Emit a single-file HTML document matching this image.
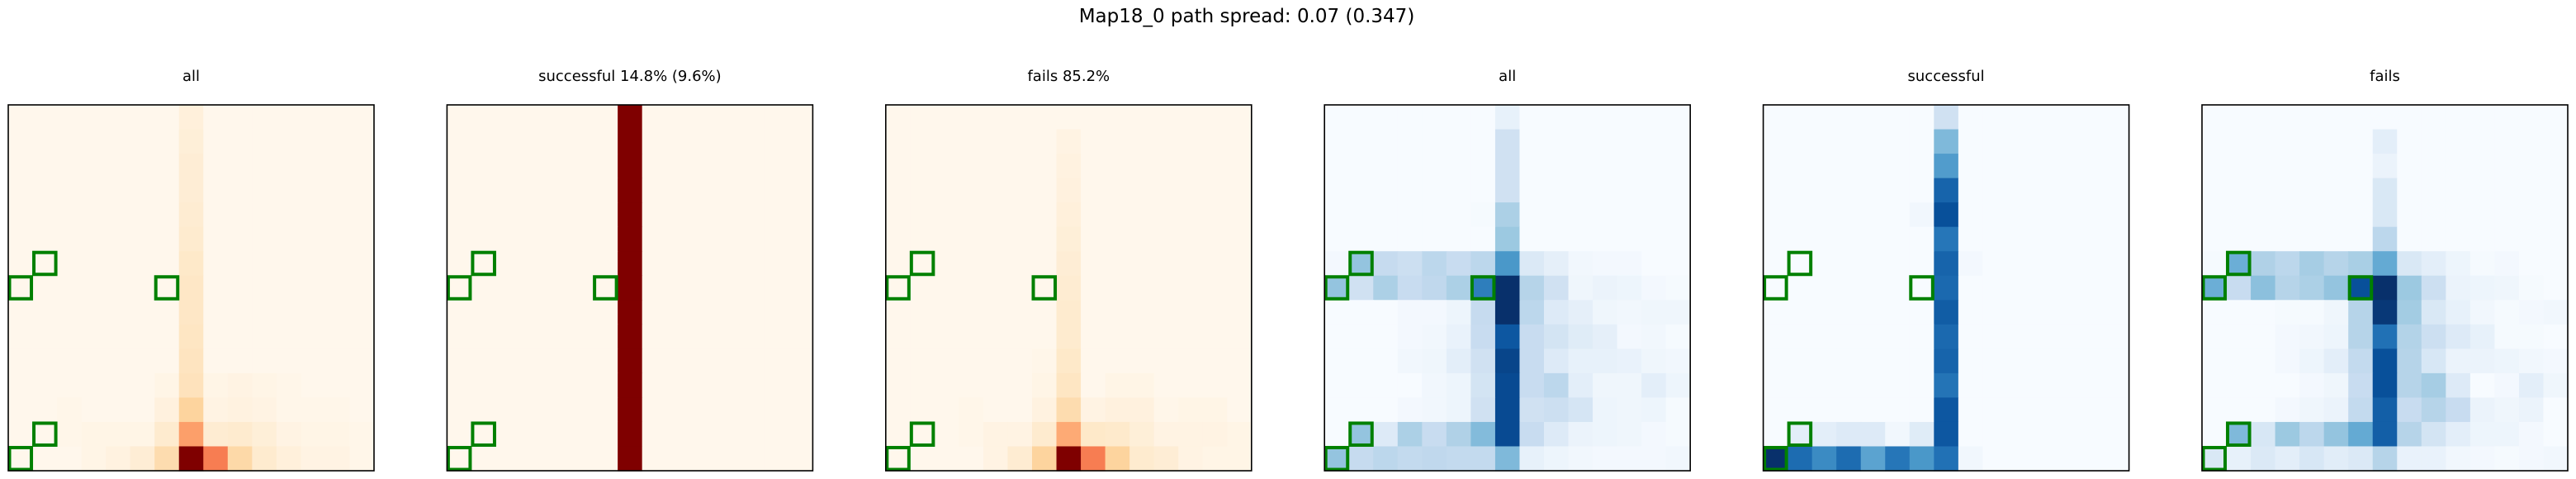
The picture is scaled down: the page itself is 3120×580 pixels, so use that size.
<!DOCTYPE html>
<html><head><meta charset="utf-8"><style>
html,body{margin:0;padding:0;background:#fff;width:3120px;height:580px;overflow:hidden}
svg{display:block}
text{font-family:"DejaVu Sans","Liberation Sans",sans-serif;fill:#000}
</style></head><body>
<svg id="fig" width="3120" height="580" viewBox="0 0 3120 580">
<text x="1510" y="27" font-size="23" text-anchor="middle">Map18_0 path spread: 0.07 (0.347)</text>
</svg>
<script>
// ---- data ----
const panelTitles = ["all", "successful 14.8% (9.6%)", "fails 85.2%", "all", "successful", "fails"];
const panelCmaps = ["OrRd", "OrRd", "OrRd", "Blues", "Blues", "Blues"];
const wallCells = [[7,0],[6,1],[7,6],[13,1],[14,0]];
// sparse [row, col, value] triples; missing cells = 0
const allOrange = [[0,7,0.06],[1,7,0.07],[2,7,0.08],[3,7,0.08],[4,7,0.09],[5,7,0.1],[6,7,0.12],[7,7,0.13],[8,7,0.13],[9,7,0.14],[10,7,0.15],[11,7,0.16],[12,7,0.25],[13,7,0.45],[14,7,1],
[14,3,0.02],[14,4,0.04],[14,5,0.08],[14,6,0.2],[14,8,0.55],[14,9,0.22],[14,10,0.1],[14,11,0.06],[14,12,0.03],[14,13,0.03],[14,14,0.01],
[13,2,0.01],[13,3,0.02],[13,4,0.02],[13,5,0.02],[13,6,0.1],[13,8,0.09],[13,9,0.1],[13,10,0.07],[13,11,0.03],[13,12,0.02],[13,13,0.02],[13,14,0.01],
[12,2,0.01],[12,6,0.05],[12,8,0.03],[12,9,0.04],[12,10,0.03],[12,11,0.01],[12,12,0.01],[12,13,0.01],
[11,6,0.02],[11,8,0.02],[11,9,0.03],[11,10,0.02],[11,11,0.01]];
const successOrange = [[0,7,1],[1,7,1],[2,7,1],[3,7,1],[4,7,1],[5,7,1],[6,7,1],[7,7,1],[8,7,1],[9,7,1],[10,7,1],[11,7,1],[12,7,1],[13,7,1],[14,7,1]];
const failsOrange = [[1,7,0.03],[2,7,0.04],[3,7,0.05],[4,7,0.06],[5,7,0.07],[6,7,0.08],[7,7,0.09],[8,7,0.1],[9,7,0.1],[10,7,0.12],[11,7,0.14],[12,7,0.2],[13,7,0.42],[14,7,1],
[14,4,0.03],[14,5,0.09],[14,6,0.25],[14,8,0.55],[14,9,0.25],[14,10,0.1],[14,11,0.08],[14,12,0.03],[14,13,0.02],[14,14,0.02],
[13,3,0.01],[13,4,0.03],[13,5,0.03],[13,6,0.1],[13,8,0.12],[13,9,0.11],[13,10,0.07],[13,11,0.03],[13,12,0.03],[13,13,0.03],[13,14,0.02],
[12,3,0.01],[12,6,0.04],[12,8,0.03],[12,9,0.05],[12,10,0.05],[12,11,0.01],[12,12,0.02],[12,13,0.02],
[11,6,0.02],[11,9,0.02],[11,10,0.02],[10,6,0.01]];
const allBlue = [[0,7,0.08],[1,7,0.2],[2,7,0.2],[3,7,0.2],[4,7,0.33],[4,6,0.01],[5,7,0.38],
[6,0,0.02],[6,1,0.4],[6,2,0.25],[6,3,0.22],[6,4,0.28],[6,5,0.24],[6,6,0.28],[6,7,0.6],[6,8,0.14],[6,9,0.09],[6,10,0.03],[6,11,0.02],[6,12,0.02],
[7,0,0.4],[7,1,0.2],[7,2,0.33],[7,3,0.24],[7,4,0.27],[7,5,0.33],[7,6,0.7],[7,7,1],[7,8,0.3],[7,9,0.2],[7,10,0.04],[7,11,0.06],[7,12,0.05],[7,13,0.02],[7,14,0.01],
[8,3,0.02],[8,4,0.02],[8,5,0.05],[8,6,0.25],[8,7,1],[8,8,0.28],[8,9,0.13],[8,10,0.09],[8,11,0.04],[8,12,0.03],[8,13,0.04],[8,14,0.04],
[9,3,0.02],[9,4,0.03],[9,5,0.07],[9,6,0.24],[9,7,0.85],[9,8,0.24],[9,9,0.18],[9,10,0.12],[9,11,0.09],[9,12,0.02],[9,13,0.03],[9,14,0.01],
[10,3,0.03],[10,4,0.04],[10,5,0.1],[10,6,0.2],[10,7,0.92],[10,8,0.24],[10,9,0.13],[10,10,0.08],[10,11,0.08],[10,12,0.07],[10,13,0.04],[10,14,0.03],
[11,4,0.03],[11,5,0.05],[11,6,0.18],[11,7,0.9],[11,8,0.24],[11,9,0.28],[11,10,0.1],[11,11,0.04],[11,12,0.04],[11,13,0.1],[11,14,0.05],
[12,3,0.02],[12,4,0.03],[12,5,0.05],[12,6,0.2],[12,7,0.9],[12,8,0.2],[12,9,0.22],[12,10,0.17],[12,11,0.05],[12,12,0.04],[12,13,0.05],[12,14,0.01],
[13,1,0.4],[13,2,0.13],[13,3,0.33],[13,4,0.24],[13,5,0.32],[13,6,0.44],[13,7,0.9],[13,8,0.24],[13,9,0.13],[13,10,0.06],[13,11,0.05],[13,12,0.04],[13,13,0.02],[13,14,0.01],
[14,0,0.4],[14,1,0.25],[14,2,0.28],[14,3,0.26],[14,4,0.27],[14,5,0.26],[14,6,0.26],[14,7,0.45],[14,8,0.08],[14,9,0.05],[14,10,0.03],[14,11,0.02],[14,12,0.02],[14,13,0.02],[14,14,0.03]];
const successBlue = [[0,7,0.2],[1,7,0.45],[2,7,0.58],[3,7,0.8],[4,7,0.88],[5,7,0.73],[6,7,0.8],[7,7,0.78],[8,7,0.83],[9,7,0.78],[10,7,0.8],[11,7,0.74],[12,7,0.85],[13,7,0.85],[14,7,0.75],
[4,6,0.03],[6,8,0.02],
[13,1,0.1],[13,2,0.1],[13,3,0.13],[13,4,0.13],[13,5,0.03],[13,6,0.12],
[14,0,1],[14,1,0.77],[14,2,0.65],[14,3,0.77],[14,4,0.55],[14,5,0.73],[14,6,0.6],[14,8,0.03]];
const failsBlue = [[1,7,0.1],[2,7,0.06],[3,7,0.15],[4,7,0.15],[5,7,0.28],
[6,0,0.01],[6,1,0.5],[6,2,0.32],[6,3,0.28],[6,4,0.35],[6,5,0.3],[6,6,0.34],[6,7,0.52],[6,8,0.15],[6,9,0.1],[6,10,0.05],[6,11,0.01],[6,12,0.02],
[7,0,0.5],[7,1,0.24],[7,2,0.42],[7,3,0.3],[7,4,0.33],[7,5,0.4],[7,6,0.88],[7,7,1],[7,8,0.38],[7,9,0.22],[7,10,0.06],[7,11,0.05],[7,12,0.04],[7,13,0.01],
[8,3,0.01],[8,4,0.01],[8,5,0.04],[8,6,0.3],[8,7,0.97],[8,8,0.36],[8,9,0.15],[8,10,0.08],[8,11,0.03],[8,12,0.01],[8,13,0.02],[8,14,0.03],
[9,3,0.02],[9,4,0.03],[9,5,0.05],[9,6,0.3],[9,7,0.75],[9,8,0.31],[9,9,0.22],[9,10,0.13],[9,11,0.08],[9,12,0.01],[9,13,0.01],
[10,3,0.02],[10,4,0.05],[10,5,0.1],[10,6,0.26],[10,7,0.88],[10,8,0.3],[10,9,0.16],[10,10,0.06],[10,11,0.06],[10,12,0.05],[10,13,0.03],[10,14,0.02],
[11,4,0.02],[11,5,0.04],[11,6,0.24],[11,7,0.88],[11,8,0.3],[11,9,0.35],[11,10,0.13],[11,12,0.02],[11,13,0.1],[11,14,0.04],
[12,3,0.02],[12,4,0.04],[12,5,0.06],[12,6,0.26],[12,7,0.82],[12,8,0.24],[12,9,0.3],[12,10,0.24],[12,11,0.06],[12,12,0.04],[12,13,0.06],
[13,1,0.45],[13,2,0.16],[13,3,0.38],[13,4,0.28],[13,5,0.4],[13,6,0.52],[13,7,0.82],[13,8,0.3],[13,9,0.18],[13,10,0.1],[13,11,0.05],[13,12,0.05],[13,13,0.02],
[14,0,0.15],[14,1,0.08],[14,2,0.14],[14,3,0.1],[14,4,0.16],[14,5,0.11],[14,6,0.14],[14,7,0.3],[14,8,0.07],[14,9,0.07],[14,10,0.03],[14,11,0.02],[14,12,0.01],[14,13,0.02],[14,14,0.03]];
const panelData = [allOrange, successOrange, failsOrange, allBlue, successBlue, failsBlue];

// ---- layout ----
const N = 15, PL = 10, PSTEP = 531.4, PT = 127, PS = 443;
const CS = PS / N;
const stops = {
  OrRd: ["#fff7ec","#fee8c8","#fdd49e","#fdbb84","#fc8d59","#ef6548","#d7301f","#b30000","#7f0000"],
  Blues: ["#f7fbff","#deebf7","#c6dbef","#9ecae1","#6baed6","#4292c6","#2171b5","#08519c","#08306b"]
};
function hex(h){return [1,3,5].map(i=>parseInt(h.substr(i,2),16));}
function cmap(name, v){
  v = Math.max(0, Math.min(1, v));
  const s = stops[name], p = v*(s.length-1), i = Math.min(Math.floor(p), s.length-2), f = p-i;
  const a = hex(s[i]), b = hex(s[i+1]);
  return "rgb(" + a.map((x,k)=>Math.round(x+(b[k]-x)*f)).join(",") + ")";
}
const xScale = (p, c) => PL + p*PSTEP + c*CS;
const yScale = r => PT + r*CS;
const NS = "http://www.w3.org/2000/svg";
const svg = document.getElementById("fig");
function mk(tag, attrs, parent){
  const e = document.createElementNS(NS, tag);
  for (const k in attrs) e.setAttribute(k, attrs[k]);
  parent.appendChild(e); return e;
}
panelData.forEach((data, p) => {
  const g = mk("g", {}, svg);
  
  
  const t = mk("text", {x: xScale(p,0)+PS/2, y: 98, "font-size": 18, "text-anchor": "middle"}, g);
  t.textContent = panelTitles[p];
  
  
  const grid = [];
  for (let r=0;r<N;r++){ grid.push(new Array(N).fill(0)); }
  data.forEach(d => { grid[d[0]][d[1]] = d[2]; });
  for (let r=0;r<N;r++) for (let c=0;c<N;c++){
    const cell = mk("rect", {x: xScale(p,c), y: yScale(r), width: CS+0.6, height: CS+0.6, fill: cmap(panelCmaps[p], grid[r][c])}, g);
    
    
  }
  wallCells.forEach(w => {
    const m = mk("rect", {x: xScale(p,w[1])+1.5, y: yScale(w[0])+1.5, width: CS-3, height: CS-3, fill: "none", stroke: "#008000", "stroke-width": 4}, g);
    
    
  });
  const fr = mk("rect", {x: xScale(p,0), y: PT, width: PS, height: PS, fill: "none", stroke: "#000", "stroke-width": 1.6}, g);
  
  
});
</script>
</body></html>
